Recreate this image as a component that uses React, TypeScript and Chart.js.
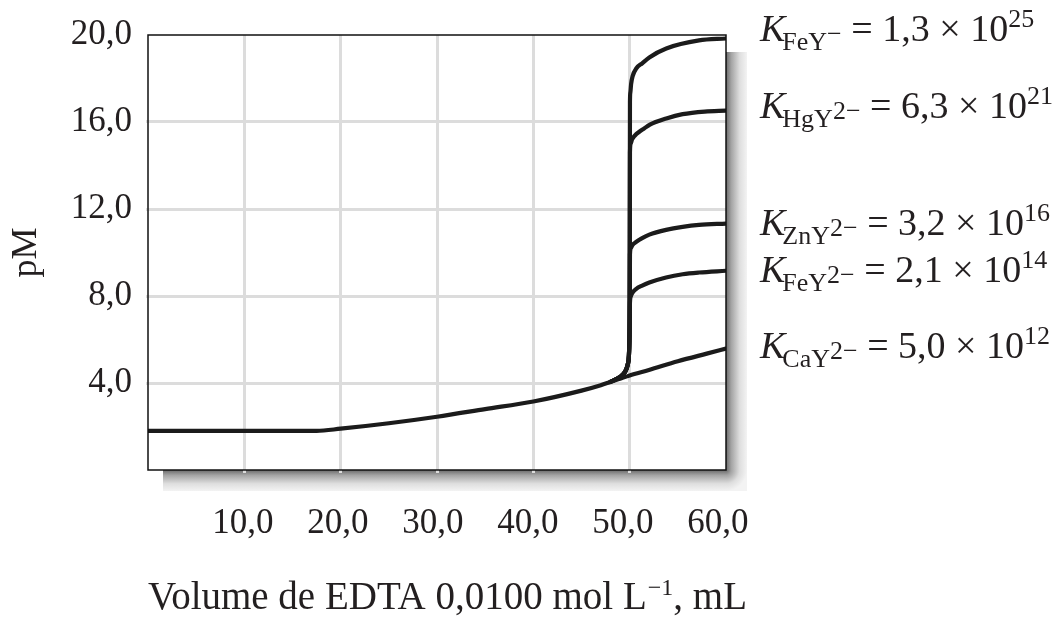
import React, { useEffect, useRef } from "react";
import { Chart, registerables } from "chart.js";

Chart.register(...registerables);

// ---- data ----
const baseVolume = [0, 5, 10, 15, 17.5, 20, 25, 30, 35, 40, 45, 47, 48];
const basePM = [1.8, 1.8, 1.8, 1.8, 1.8, 1.9, 2.15, 2.45, 2.8, 3.15, 3.65, 3.9, 4.05];

const caTailVolume = [49, 50, 52, 55, 58, 60];
const caTailPM = [4.2, 4.35, 4.6, 5.0, 5.35, 5.58];

const jumpVolume = [49, 49.5, 49.8, 49.92, 49.97, 50.0];
const jumpPM = [4.28, 4.5, 4.85, 5.25, 5.9, 7.0];

const feYVolume = [50.03, 50.07, 50.15, 50.3, 50.7, 51.3, 52.04, 53.8, 57.2, 60];
const feYPM = [16.9, 17.35, 17.75, 18.1, 18.47, 18.7, 18.97, 19.38, 19.75, 19.84];

const hgYVolume = [50.03, 50.1, 50.25, 50.55, 51.0, 51.5, 52.1, 53.8, 55.5, 57.8, 60];
const hgYPM = [14.6, 15.0, 15.2, 15.38, 15.55, 15.7, 15.88, 16.16, 16.36, 16.48, 16.52];

const znYVolume = [50.03, 50.12, 50.3, 50.66, 51.3, 52.04, 53.78, 55.5, 57.2, 60];
const znYPM = [9.9, 10.2, 10.35, 10.48, 10.66, 10.82, 11.04, 11.18, 11.27, 11.33];

const fe2YVolume = [50.03, 50.12, 50.3, 50.66, 51.3, 52.04, 53.78, 55.5, 57.2, 60];
const fe2YPM = [7.7, 7.98, 8.15, 8.32, 8.48, 8.62, 8.85, 9.0, 9.08, 9.16];

const xTickValues = [10, 20, 30, 40, 50, 60];
const yTickValues = [4, 8, 12, 16, 20];

const labelMetal = ["FeY", "HgY", "ZnY", "FeY", "CaY"];
const labelCharge = ["\u2212", "2\u2212", "2\u2212", "2\u2212", "2\u2212"];
const labelMantissa = ["1,3", "6,3", "3,2", "2,1", "5,0"];
const labelExponent = ["25", "21", "16", "14", "12"];

const xTitleMain = "Volume de EDTA 0,0100 mol L";
const xTitleSup = "\u22121";
const xTitleEnd = ", mL";

const FONT = '"Liberation Serif", "Times New Roman", serif';
const TEXT = "#231f20";
const LINE = "#1b1b1b";
const GRID = "#dcdcdc";

function pts(xs: number[], ys: number[]) {
  return xs.map((x, i) => ({ x, y: ys[i] }));
}

const fmt = (v: number) => v.toFixed(1).replace(".", ",");

const shadowPlugin = {
  id: "shadowPlugin",
  beforeDraw(chart: any) {
    const { ctx, chartArea } = chart;
    const { left, right, top, bottom } = chartArea;
    const w = 21;
    const stops = (g: any) => {
      g.addColorStop(0, "#6a6a6a");
      g.addColorStop(0.25, "#a4a4a4");
      g.addColorStop(0.65, "#dedede");
      g.addColorStop(1, "#f3f3f3");
      return g;
    };
    ctx.save();
    ctx.fillStyle = stops(ctx.createLinearGradient(right, 0, right + w, 0));
    ctx.fillRect(right, top + 17, w, bottom - top - 17);
    ctx.fillStyle = stops(ctx.createLinearGradient(0, bottom, 0, bottom + w));
    ctx.fillRect(left + 15, bottom, right - left - 15, w);
    ctx.fillStyle = stops(ctx.createRadialGradient(right, bottom, 0, right, bottom, w));
    ctx.fillRect(right, bottom, w, w);
    ctx.fillStyle = "#ffffff";
    ctx.fillRect(left, top, right - left, bottom - top);
    ctx.restore();
  },
  afterDraw(chart: any) {
    const { ctx, chartArea } = chart;
    const { left, right, top, bottom } = chartArea;
    ctx.save();
    ctx.strokeStyle = "#111";
    ctx.lineWidth = 1.5;
    ctx.strokeRect(left, top, right - left, bottom - top);
    ctx.restore();

    ctx.save();
    ctx.fillStyle = TEXT;
    ctx.textBaseline = "alphabetic";
    ctx.textAlign = "left";

    // x-axis title
    {
      let x = left;
      const y = 609;
      ctx.font = `39px ${FONT}`;
      ctx.fillText(xTitleMain, x, y);
      x += ctx.measureText(xTitleMain).width + 1;
      ctx.font = `24px ${FONT}`;
      ctx.fillText(xTitleSup, x, y - 14);
      x += ctx.measureText(xTitleSup).width;
      ctx.font = `39px ${FONT}`;
      ctx.fillText(xTitleEnd, x, y);
    }

    // labels on the right
    const baselines = [41, 118, 235, 282, 358];
    const x0 = 760;
    for (let i = 0; i < labelMetal.length; i++) {
      const y = baselines[i];
      let x = x0;
      ctx.font = `italic 38px ${FONT}`;
      ctx.fillText("K", x, y);
      x += ctx.measureText("K").width - 3;
      ctx.font = `26px ${FONT}`;
      ctx.fillText(labelMetal[i], x, y + 9);
      x += ctx.measureText(labelMetal[i]).width;
      ctx.fillText(labelCharge[i], x, y + 1);
      x += ctx.measureText(labelCharge[i]).width;
      ctx.font = `38px ${FONT}`;
      const mid = " = " + labelMantissa[i] + " \u00d7 10";
      ctx.fillText(mid, x, y);
      x += ctx.measureText(mid).width;
      ctx.font = `26px ${FONT}`;
      ctx.fillText(labelExponent[i], x, y - 14);
    }
    ctx.restore();
  },
};

export default function App() {
  const canvasRef = useRef<HTMLCanvasElement | null>(null);

  useEffect(() => {
    if (!canvasRef.current) return;
    const lineStyle = {
      borderColor: LINE,
      borderWidth: 4.2,
      pointRadius: 0,
      fill: false,
      cubicInterpolationMode: "monotone" as const,
      borderCapStyle: "round" as const,
      borderJoinStyle: "round" as const,
    };
    const fork = { x: baseVolume[baseVolume.length - 1], y: basePM[basePM.length - 1] };
    const branch = (vx: number[], vy: number[]) => [fork, ...pts(jumpVolume, jumpPM), ...pts(vx, vy)];

    const chart = new Chart(canvasRef.current, {
      type: "line",
      data: {
        datasets: [
          { label: "CaY2-", data: [...pts(baseVolume, basePM), ...pts(caTailVolume, caTailPM)], ...lineStyle },
          { label: "FeY2-", data: branch(fe2YVolume, fe2YPM), ...lineStyle },
          { label: "ZnY2-", data: branch(znYVolume, znYPM), ...lineStyle },
          { label: "HgY2-", data: branch(hgYVolume, hgYPM), ...lineStyle },
          { label: "FeY-", data: branch(feYVolume, feYPM), ...lineStyle },
        ],
      },
      options: {
        animation: false,
        responsive: false,
        maintainAspectRatio: false,
        parsing: false as any,
        layout: { padding: { left: 0, top: 30, right: 335, bottom: 0 } },
        plugins: { legend: { display: false }, tooltip: { enabled: false } },
        scales: {
          x: {
            type: "linear",
            position: "bottom",
            weight: 0,
            min: 0,
            max: 60,
            ticks: { display: false, stepSize: 10 },
            grid: {
              color: (c: any) => (c.tick && (c.tick.value === 0 || c.tick.value === 60) ? "rgba(0,0,0,0)" : GRID),
              lineWidth: 3,
              tickLength: 3,
            },
            border: { display: false },
            afterFit: (s: any) => {
              s.height = 0;
            },
          },
          x2: {
            type: "linear",
            position: "bottom",
            weight: 1,
            min: 0,
            max: 60.85,
            afterBuildTicks: (s: any) => {
              s.ticks = xTickValues.map((v) => ({ value: v }));
            },
            ticks: {
              color: TEXT,
              font: { family: FONT, size: 35 },
              padding: 25,
              maxRotation: 0,
              autoSkip: false,
              callback: (v: any) => fmt(Number(v)),
            },
            grid: { display: false },
            border: { display: false },
            title: { display: false },
            afterFit: (s: any) => {
              s.height = 160;
            },
          },
          y: {
            type: "linear",
            position: "left",
            min: 0,
            max: 20,
            afterBuildTicks: (s: any) => {
              s.ticks = [0, ...yTickValues].map((v) => ({ value: v }));
            },
            ticks: {
              color: TEXT,
              font: { family: FONT, size: 35 },
              padding: 14,
              callback: (v: any) => (Number(v) === 0 ? "" : fmt(Number(v))),
            },
            grid: {
              color: (c: any) => (c.tick && (c.tick.value === 0 || c.tick.value === 20) ? "rgba(0,0,0,0)" : GRID),
              lineWidth: 3,
              tickLength: 2,
            },
            border: { display: false },
            title: {
              display: true,
              text: "pM",
              color: TEXT,
              font: { family: FONT, size: 36 },
              padding: { top: 5, bottom: 0 },
            },
            afterFit: (s: any) => {
              s.width = 148;
            },
          },
        },
      } as any,
      plugins: [shadowPlugin],
    });
    return () => chart.destroy();
  }, []);

  return (
    <div style={{ position: "absolute", left: 0, top: 0, width: 1061, height: 630, background: "#fff" }}>
      <canvas ref={canvasRef} width={1061} height={630} />
    </div>
  );
}
